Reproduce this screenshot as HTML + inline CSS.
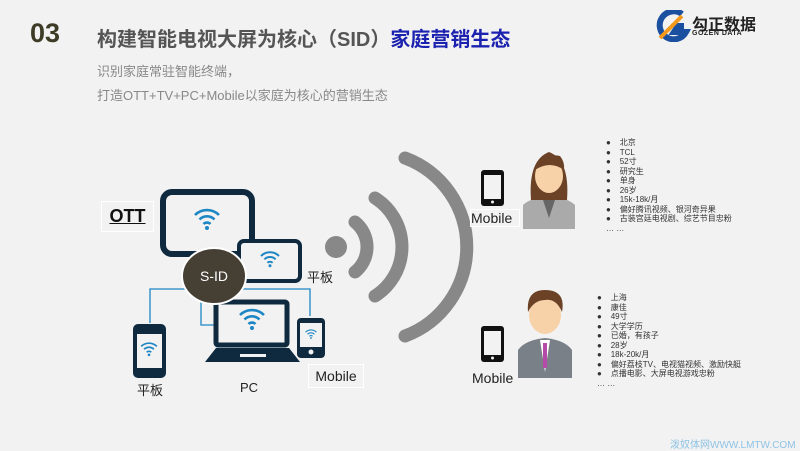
<!DOCTYPE html>
<html><head><meta charset="utf-8"><style>
body{margin:0;width:800px;height:450px;background:#f2f2f2;overflow:hidden;font-family:"Liberation Sans","Noto Sans CJK SC",sans-serif;position:relative}
.a{position:absolute;white-space:nowrap}
.l{font-size:8px;color:#333;line-height:9.5px}
</style></head><body>
<div class="a" style="left:30px;top:18px;font-size:27px;font-weight:bold;color:#3d3a26">03</div>
<div class="a" style="left:97px;top:23px;font-size:20px;font-weight:bold;color:#555">构建智能电视大屏为核心（SID）<span style="color:#1c22b0">家庭营销生态</span></div>
<div class="a" style="left:97px;top:61px;font-size:13px;color:#888">识别家庭常驻智能终端，</div>
<div class="a" style="left:97px;top:85px;font-size:13px;color:#888">打造OTT+TV+PC+Mobile以家庭为核心的营销生态</div>
<svg class="a" style="left:652px;top:10px" width="40" height="32"><path d="M30 4 A14 14 0 1 0 34 22 L22 22 L26 16 L32 16" fill="none" stroke="#1b4fa0" stroke-width="6"/><path d="M8 28 L30 6" stroke="#f39a1e" stroke-width="4"/></svg>
<div class="a" style="left:692px;top:11px;font-size:16px;font-weight:bold;color:#222">勾正数据</div>
<div class="a" style="left:692px;top:30px;font-size:7px;font-weight:bold;color:#222;letter-spacing:0.5px">GOZEN DATA</div>

<svg class="a" style="left:0;top:0" width="800" height="450">
<defs><g id="w"><path d="M-12 -4 A17 17 0 0 1 12 -4" fill="none" stroke="#1d86c4" stroke-width="2.6"/><path d="M-7.5 0.5 A10.5 10.5 0 0 1 7.5 0.5" fill="none" stroke="#1d86c4" stroke-width="2.6"/><path d="M-3.5 5 A5 5 0 0 1 3.5 5" fill="none" stroke="#1d86c4" stroke-width="2.6"/><circle cx="0" cy="9" r="2" fill="#1d86c4"/></g></defs>
<g stroke="#1d86c4" stroke-width="1.3" fill="none">
<path d="M150 323 V289 H310 V316"/><path d="M201 289 V325 H214"/></g>
<rect x="163" y="192" width="89" height="62" rx="9" fill="#f2f2f2" stroke="#0f2a3f" stroke-width="6"/>
<use href="#w" x="207" y="219"/>
<rect x="239" y="241" width="61" height="40" rx="5" fill="#f2f2f2" stroke="#0f2a3f" stroke-width="4"/>
<use href="#w" x="270" y="259" transform="translate(270 259) scale(0.75) translate(-270 -259)"/>
<rect x="216" y="302" width="71" height="43" rx="2" fill="#f2f2f2" stroke="#0f2a3f" stroke-width="5"/>
<path d="M216 348 H289 L300 362 H205 Z" fill="#0f2a3f"/><rect x="240" y="354" width="26" height="3" fill="#f2f2f2"/>
<use href="#w" x="252" y="319"/>
<rect x="133" y="324" width="33" height="54" rx="5" fill="#0f2a3f"/><rect x="137" y="334" width="25" height="34" fill="#f2f2f2"/>
<use href="#w" x="149" y="349" transform="translate(149 349) scale(0.65) translate(-149 -349)"/>
<rect x="297" y="318" width="28" height="40" rx="4" fill="#0f2a3f"/><rect x="300" y="323" width="22" height="24" fill="#f2f2f2"/><circle cx="311" cy="352" r="2.5" fill="#f2f2f2"/>
<use href="#w" x="311" y="334" transform="translate(311 334) scale(0.45) translate(-311 -334)"/>
<ellipse cx="214" cy="276" rx="32" ry="28" fill="#463f34" stroke="#fff" stroke-width="2"/>
<text x="214" y="281" font-size="14" fill="#fff" text-anchor="middle" font-family="Liberation Sans">S-ID</text>
<circle cx="336" cy="247" r="11" fill="#888"/>
<g fill="none" stroke="#888" stroke-width="13" stroke-linecap="round">
<path d="M355 222 A32 32 0 0 1 355 272"/>
<path d="M375 198 A58 58 0 0 1 375 296"/>
<path d="M405 158 A95 95 0 0 1 405 336"/></g>
<g fill="#111"><rect x="481" y="170" width="23" height="36" rx="3"/><rect x="481" y="326" width="23" height="36" rx="3"/></g>
<g fill="#f2f2f2"><rect x="484" y="175" width="17" height="24"/><rect x="484" y="331" width="17" height="24"/></g>
<g fill="#f2f2f2"><circle cx="492.5" cy="202" r="1.5"/><circle cx="492.5" cy="358" r="1.5"/></g>
<path d="M523 229 V205 Q530 198 549 196 Q568 198 575 205 V229 Z" fill="#aaa"/>
<path d="M543 200 L549 218 L555 200 Z" fill="#666"/>
<path d="M531 200 Q528 160 549 152 Q570 160 567 200 Z" fill="#6b4226"/>
<ellipse cx="549" cy="176" rx="14" ry="17" fill="#f7d1a8"/>
<path d="M535 170 Q540 152 560 156 Q565 162 564 170 Q550 160 535 170Z" fill="#6b4226"/>
<path d="M518 378 V350 Q525 340 545 338 Q565 340 572 350 V378 Z" fill="#7a8088"/>
<path d="M540 340 L545 372 L550 340 Z" fill="#fff"/><rect x="543" y="343" width="4" height="25" fill="#b54aa8"/>
<ellipse cx="545" cy="315" rx="16" ry="19" fill="#f7d1a8"/>
<path d="M528 312 Q526 290 545 290 Q566 290 562 312 Q556 298 545 300 Q534 300 528 312Z" fill="#6b4226"/>
</svg>

<div class="a" style="left:101px;top:201px;width:51px;height:29px;border:1px solid #fff;font-size:18px;font-weight:bold;text-decoration:underline;line-height:29px;text-align:center;color:#111">OTT</div>
<div class="a" style="left:307px;top:267px;font-size:13px;color:#222">平板</div>
<div class="a" style="left:308px;top:364px;width:54px;height:22px;border:1px solid #fff;font-size:14px;line-height:22px;text-align:center;color:#222">Mobile</div>
<div class="a" style="left:137px;top:380px;font-size:13px;color:#222">平板</div>
<div class="a" style="left:240px;top:380px;font-size:13px;color:#222">PC</div>
<div class="a" style="left:470px;top:209px;width:48px;border:1px solid #fff;font-size:14px;color:#222">Mobile</div>
<div class="a" style="left:472px;top:370px;font-size:14px;color:#222">Mobile</div>

<div class="a l" style="left:606px;top:138px">
● &nbsp;&nbsp;&nbsp;北京<br>● &nbsp;&nbsp;&nbsp;TCL<br>● &nbsp;&nbsp;&nbsp;52寸<br>● &nbsp;&nbsp;&nbsp;研究生<br>● &nbsp;&nbsp;&nbsp;单身<br>● &nbsp;&nbsp;&nbsp;26岁<br>● &nbsp;&nbsp;&nbsp;15k-18k/月<br>● &nbsp;&nbsp;&nbsp;偏好腾讯视频、银河奇异果<br>● &nbsp;&nbsp;&nbsp;古装宫廷电视剧、综艺节目忠粉<br>… …</div>
<div class="a l" style="left:597px;top:293px">
● &nbsp;&nbsp;&nbsp;上海<br>● &nbsp;&nbsp;&nbsp;康佳<br>● &nbsp;&nbsp;&nbsp;49寸<br>● &nbsp;&nbsp;&nbsp;大学学历<br>● &nbsp;&nbsp;&nbsp;已婚，有孩子<br>● &nbsp;&nbsp;&nbsp;28岁<br>● &nbsp;&nbsp;&nbsp;18k-20k/月<br>● &nbsp;&nbsp;&nbsp;偏好荔枝TV、电视猫视频、激励快艇<br>● &nbsp;&nbsp;&nbsp;点播电影、大屏电视游戏忠粉<br>… …</div>
<div class="a" style="left:670px;top:436px;font-size:10px;color:#8fc3e6">泼奴体网WWW.LMTW.COM</div>
</body></html>
